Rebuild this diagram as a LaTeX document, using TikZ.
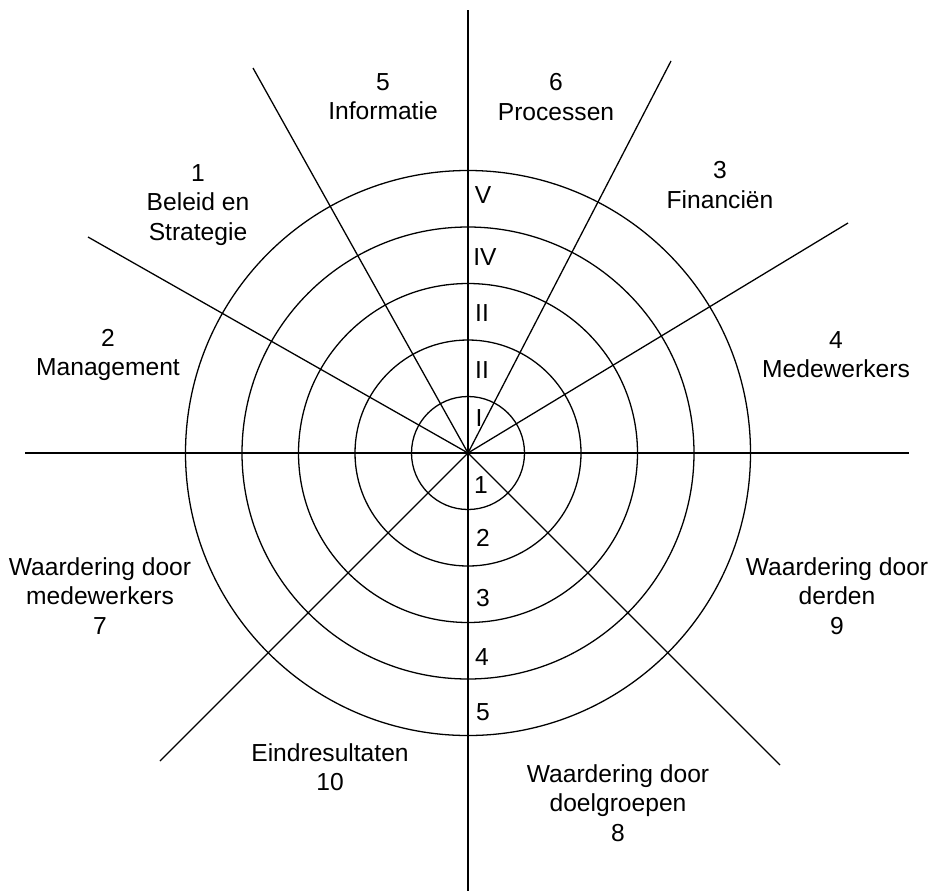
\documentclass[tikz,border=0pt]{standalone}
\usepackage{fontspec}
\setmainfont{Liberation Sans}
\usepackage{tikz}

\begin{document}
\begin{tikzpicture}[x=0.03cm,y=-0.03cm,
    axis/.style={line width=1.6pt},
    spoke/.style={line width=1.1pt},
    ring/.style={line width=1.1pt},
    lbl/.style={align=center,font=\fontsize{21}{25}\selectfont,inner sep=0pt},
    rlbl/.style={font=\fontsize{21}{25}\selectfont,inner sep=0pt}]
			\useasboundingbox (0,0) rectangle (930,891);
			\coordinate (c) at (468,453);
			% rings
			\foreach \r in {1,...,5}
				\draw[ring] (c) circle ({56.5*\r*0.03cm});
			% axes
			\coordinate (top) at (468,10);
			\coordinate (bot) at (468,891);
			\coordinate (lft) at (25,453);
			\coordinate (rgt) at (909,453);
			\draw[axis] (top) -- (bot);
			\draw[axis] (lft) -- (rgt);
			% spokes
			\coordinate (ul1) at (253,68);
			\coordinate (ul2) at (88,237);
			\coordinate (ur1) at (671,61);
			\coordinate (ur2) at (848,223);
			\coordinate (ll) at (160,761);
			\coordinate (lr) at (780,765);
			\foreach \e in {ul1,ul2,ur1,ur2,ll,lr}
				\draw[spoke] (c) -- (\e);
			% ring numbers
			\node[rlbl] (rV) at (483,195) {V};
			\node[rlbl] (rIV) at (485,257) {IV};
			\node[rlbl] (rIIIa) at (482,313) {II};
			\node[rlbl] (rIIb) at (482,370) {II};
			\node[rlbl] (rI) at (479,418) {I};
			\node[rlbl] (r1) at (481,485) {1};
			\node[rlbl] (r2) at (483,538) {2};
			\node[rlbl] (r3) at (483,598) {3};
			\node[rlbl] (r4) at (482,657) {4};
			\node[rlbl] (r5) at (483,712) {5};
			% fields
			\node[lbl] (informatie) at (383,97) {5\\Informatie};
			\node[lbl] (processen) at (556,97) {6\\Processen};
			\node[lbl] (beleid) at (198,205) {1\\Beleid en\\Strategie};
			\node[lbl] (financien) at (720,185) {3\\Financiën};
			\node[lbl] (management) at (108,355) {2\\Management};
			\node[lbl] (medewerkers) at (836,355) {4\\Medewerkers};
			\node[lbl] (wmedew) at (100,596) {Waardering door\\medewerkers\\7};
			\node[lbl] (wderden) at (837,596) {Waardering door\\derden\\9};
			\node[lbl] (eind) at (330,767) {Eindresultaten\\10};
			\node[lbl] (wdoel) at (618,803) {Waardering door\\doelgroepen\\8};
		\end{tikzpicture}
\end{document}
